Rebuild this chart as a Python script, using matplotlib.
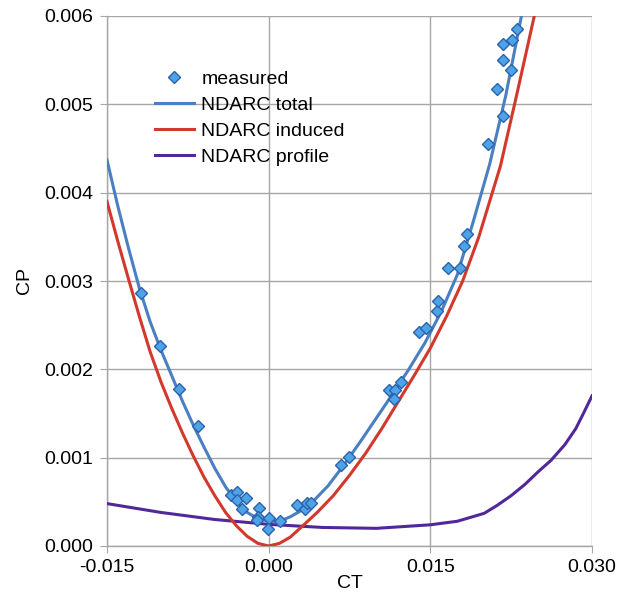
import matplotlib
matplotlib.use("Agg")
import matplotlib.pyplot as plt

plt.rcParams["font.family"] = ["Liberation Sans", "DejaVu Sans"]

# measured points (CT, CP)
meas_ct = [-0.01187, -0.01008, -0.00832, -0.00656,
           -0.00352, -0.00290, -0.00290, -0.00207, -0.00250, -0.00090, -0.00099,
           -0.00111, 0.00003, -0.00006, 0.00102, 0.00260, 0.00334, 0.00352, 0.00390,
           0.00668, 0.00749,
           0.01116, 0.01172, 0.01224, 0.01162, 0.01394, 0.01463, 0.01565, 0.01574,
           0.01667, 0.01775, 0.01812, 0.01837, 0.02038, 0.02173, 0.02121, 0.02245,
           0.02177, 0.02177, 0.02254, 0.02307]
meas_cp = [0.002869, 0.002268, 0.001775, 0.001359,
           0.000578, 0.000615, 0.000521, 0.000547, 0.000419, 0.000427, 0.000332,
           0.000294, 0.000314, 0.000193, 0.000283, 0.000461, 0.000416, 0.000490, 0.000484,
           0.000917, 0.001011,
           0.001767, 0.001767, 0.001861, 0.001661, 0.002420, 0.002472, 0.002665, 0.002775,
           0.003152, 0.003145, 0.003401, 0.003530, 0.004549, 0.004870, 0.005172, 0.005391,
           0.005504, 0.005682, 0.005730, 0.005852]

# NDARC total
total_ct = [-0.0150, -0.0140, -0.0130, -0.0120, -0.0110, -0.0100, -0.0090, -0.0080,
            -0.0070, -0.0060, -0.0050, -0.0040, -0.0030, -0.0020, -0.0010, 0.0000,
            0.0010, 0.0020, 0.0030, 0.0040, 0.0055, 0.0070, 0.0085, 0.0100, 0.0115,
            0.0130, 0.0145, 0.0160, 0.0175, 0.0190, 0.0205, 0.0220, 0.0235]
total_cp = [0.00437, 0.00385, 0.00337, 0.00292, 0.00254, 0.00222, 0.00193, 0.00164,
            0.00137, 0.00112, 0.00088, 0.00067, 0.00050, 0.00038, 0.00031, 0.00028,
            0.00028, 0.00033, 0.00040, 0.00049, 0.00068, 0.00092, 0.00118, 0.00145, 0.00172,
            0.00200, 0.00230, 0.00265, 0.00307, 0.00368, 0.00432, 0.00510, 0.00603]

# NDARC induced
induced_ct = [-0.0150, -0.0140, -0.0130, -0.0120, -0.0110, -0.0100, -0.0090, -0.0080,
              -0.0070, -0.0060, -0.0050, -0.0040, -0.0030, -0.0020, -0.0010, 0.0000,
              0.0010, 0.0020, 0.0030, 0.0045, 0.0060, 0.0075, 0.0090, 0.0105, 0.0120,
              0.0135, 0.0150, 0.0165, 0.0180, 0.0195, 0.0215, 0.0230, 0.0247]
induced_cp = [0.00390, 0.00345, 0.00302, 0.00260, 0.00220, 0.00186, 0.00156, 0.00128,
              0.00102, 0.00078, 0.00057, 0.00038, 0.00023, 0.00011, 0.00003, 0.00000,
              0.00003, 0.00010, 0.00021, 0.00038, 0.00057, 0.00080, 0.00105, 0.00133, 0.00163,
              0.00193, 0.00224, 0.00260, 0.00300, 0.00350, 0.00430, 0.00510, 0.00603]

# NDARC profile
profile_ct = [-0.0150, -0.0100, -0.0050, 0.0000, 0.0050, 0.0100, 0.0150, 0.0175,
              0.0200, 0.0212, 0.0225, 0.0238, 0.0250, 0.0262, 0.0275, 0.0285,
              0.0292, 0.0300]
profile_cp = [0.00048, 0.00038, 0.00030, 0.000245, 0.00021, 0.00020, 0.00024, 0.00028,
              0.00037, 0.00046, 0.00057, 0.00070, 0.00084, 0.00097, 0.00115, 0.00133,
              0.00150, 0.00170]

x_ticks = [-0.015, 0.000, 0.015, 0.030]
y_ticks = [0.000, 0.001, 0.002, 0.003, 0.004, 0.005, 0.006]

BLUE = "#4a7fc1"
RED = "#d2382b"
PURPLE = "#50289a"
GRID = "#a6a6a6"

fig = plt.figure(figsize=(6.30, 5.96), dpi=100)
ax = fig.add_axes([107 / 630, 50 / 596, 485 / 630, 530 / 596])

ax.plot(profile_ct, profile_cp, color=PURPLE, lw=2.2, label="NDARC profile", zorder=3)
ax.plot(induced_ct, induced_cp, color=RED, lw=2.2, label="NDARC induced", zorder=3)
ax.plot(total_ct, total_cp, color=BLUE, lw=2.2, label="NDARC total", zorder=4)
ax.plot(meas_ct, meas_cp, ls="none", marker="D", ms=6.5, mfc="#4da3e6", mec="#2a62ad",
        mew=1.0, label="measured", zorder=5)

ax.set_xlim(-0.015, 0.030)
ax.set_ylim(0.0, 0.006)
ax.set_xticks(x_ticks)
ax.set_yticks(y_ticks)
ax.set_xticklabels([f"{v:.3f}" for v in x_ticks])
ax.set_yticklabels([f"{v:.3f}" for v in y_ticks])
ax.tick_params(axis="both", direction="out", length=5, color=GRID, labelsize=14)
ax.tick_params(axis="x", pad=4)
ax.tick_params(axis="y", pad=5)
ax.grid(True, color=GRID, lw=1.0)
ax.set_axisbelow(True)
for side in ("top", "right"):
    ax.spines[side].set_visible(False)
for side in ("left", "bottom"):
    ax.spines[side].set_color(GRID)
    ax.spines[side].set_linewidth(1.0)

ax.set_xlabel("CT", fontsize=14, labelpad=0)
ax.set_ylabel("CP", fontsize=14, labelpad=8)

handles, labels = ax.get_legend_handles_labels()
order = [3, 2, 1, 0]
ax.legend([handles[i] for i in order], [labels[i] for i in order],
          loc="upper left", bbox_to_anchor=(0.098, 0.897), frameon=False,
          fontsize=14, handlelength=2.05, handletextpad=0.35, labelspacing=0.43,
          borderpad=0, borderaxespad=0)

fig.savefig("out.png", dpi=100)
